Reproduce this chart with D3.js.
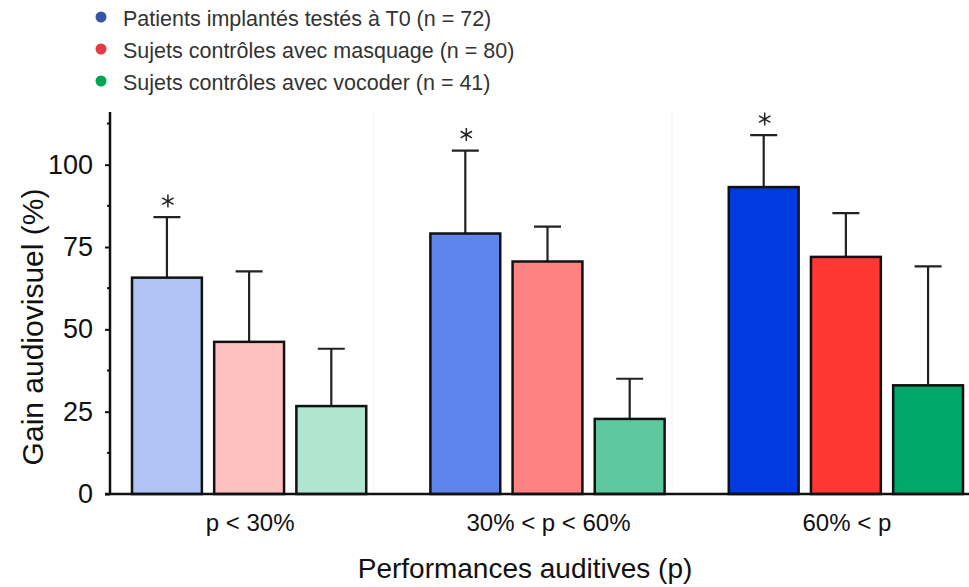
<!DOCTYPE html>
<html>
<head>
<meta charset="utf-8">
<script src="https://cdn.jsdelivr.net/npm/d3@7"></script>
<style>
  body { margin: 0; background: #fff; }
  svg { display: block; font-family: "Liberation Sans", Arial, sans-serif; }
</style>
</head>
<body>
<div id="chart"></div>
<script>
var categories = ["p < 30%", "30% < p < 60%", "60% < p"];
var series = ["Patients implantés testés à T0 (n = 72)",
              "Sujets contrôles avec masquage (n = 80)",
              "Sujets contrôles avec vocoder (n = 41)"];
// mean gain per category, one array per series
var means = [
  [65.7, 79.1, 93.2],
  [46.2, 70.6, 72.0],
  [26.7, 22.8, 33.0]
];
// top of the error bar (mean + sd)
var upper = [
  [84.1, 104.3, 109.0],
  [67.6, 81.2, 85.3],
  [44.1, 35.0, 69.1]
];
var significant = [true, false, false]; // star above the first series
var yTicks = [0, 25, 50, 75, 100];

var fills = [
  ["#b0c3f4", "#5f84ec", "#003ae0"],
  ["#ffc0c0", "#ff8282", "#ff3836"],
  ["#b0e5d1", "#5ec9a0", "#00a76a"]
];
var legendColors = ["#3556a6", "#e13b40", "#00a653"];

var W = 969, H = 587;
var svg = d3.select("#chart").append("svg")
    .attr("width", W).attr("height", H);

var x0 = d3.scaleBand().domain(categories).range([132, 963])
    .paddingInner(0.215).paddingOuter(0);
var x1 = d3.scaleBand().domain(d3.range(series.length))
    .range([0, x0.bandwidth()]).paddingInner(0.15);
var y = d3.scaleLinear().domain([0, 116]).range([494, 112]);

// faint separators
svg.selectAll(".sep").data(categories.slice(1)).enter().append("line")
    .attr("x1", function(d) { return x0(d) - x0.step() * 0.19; })
    .attr("x2", function(d) { return x0(d) - x0.step() * 0.19; })
    .attr("y1", y(116)).attr("y2", y(0))
    .attr("stroke", "#f3f3f3").attr("stroke-width", 1);

// bars
var rows = [];
series.forEach(function(s, i) {
  categories.forEach(function(c, j) {
    rows.push({ s: i, c: c, j: j, v: means[i][j], hi: upper[i][j] });
  });
});

var bw = x1.bandwidth();

// error bars
svg.selectAll(".err").data(rows).enter().append("path")
    .attr("d", function(d) {
      var cx = x0(d.c) + x1(d.s) + bw / 2;
      return "M" + cx + "," + y(d.v) + "V" + y(d.hi) +
             "M" + (cx - 13.5) + "," + y(d.hi) + "H" + (cx + 13.5);
    })
    .attr("fill", "none").attr("stroke", "#222").attr("stroke-width", 2.2);

svg.selectAll(".bar").data(rows).enter().append("rect")
    .attr("x", function(d) { return x0(d.c) + x1(d.s); })
    .attr("y", function(d) { return y(d.v); })
    .attr("width", bw)
    .attr("height", function(d) { return y(0) - y(d.v); })
    .attr("fill", function(d) { return fills[d.s][d.j]; })
    .attr("stroke", "#111").attr("stroke-width", 2.5);

// stars
var star = d3.symbol().type(d3.symbolAsterisk).size(120);
svg.selectAll(".star").data(rows.filter(function(d) { return significant[d.s]; }))
  .enter().append("path")
    .attr("d", star)
    .attr("transform", function(d) {
      return "translate(" + (x0(d.c) + x1(d.s) + bw / 2 + 1) + "," + (y(d.hi) - 16) + ")";
    })
    .attr("fill", "none").attr("stroke", "#222").attr("stroke-width", 1.5);

// y axis
var yAxis = svg.append("g").attr("transform", "translate(110,0)")
    .call(d3.axisLeft(y).tickValues(yTicks).tickSize(5).tickPadding(12).tickSizeOuter(0));
yAxis.select(".domain").attr("stroke", "#111").attr("stroke-width", 2.5)
    .attr("d", "M0," + y(116) + "V" + y(0));
yAxis.selectAll(".tick line").attr("stroke", "#111").attr("stroke-width", 2);
yAxis.selectAll(".tick text").attr("font-size", 27).attr("fill", "#111")
    .attr("font-family", "'Liberation Sans', Arial, sans-serif");

// minor ticks
svg.selectAll(".minor").data(d3.range(12.5, 116, 25)).enter().append("line")
    .attr("x1", 107).attr("x2", 110)
    .attr("y1", function(d) { return y(d); }).attr("y2", function(d) { return y(d); })
    .attr("stroke", "#111").attr("stroke-width", 2);

// x axis
svg.append("line")
    .attr("x1", 105).attr("x2", W).attr("y1", y(0)).attr("y2", y(0))
    .attr("stroke", "#111").attr("stroke-width", 2.5);

svg.selectAll(".cat").data(categories).enter().append("text")
    .attr("x", function(d) { return x0(d) + x0.bandwidth() / 2 + 1; })
    .attr("y", 531)
    .attr("text-anchor", "middle")
    .attr("font-size", 24)
    .attr("fill", "#111")
    .text(function(d) { return d; });

svg.append("text")
    .attr("x", 525).attr("y", 578)
    .attr("text-anchor", "middle")
    .attr("font-size", 28)
    .attr("fill", "#111")
    .text("Performances auditives (p)");

svg.append("text")
    .attr("transform", "translate(43,327) rotate(-90)")
    .attr("text-anchor", "middle")
    .attr("font-size", 30)
    .attr("fill", "#111")
    .text("Gain audiovisuel (%)");

// legend
var leg = svg.selectAll(".leg").data(series).enter().append("g")
    .attr("transform", function(d, i) { return "translate(101," + (17 + i * 32) + ")"; });
leg.append("circle").attr("r", 5.5)
    .attr("fill", function(d, i) { return legendColors[i]; });
leg.append("text").attr("x", 22).attr("y", 8.5)
    .attr("font-size", 21.5).attr("fill", "#333")
    .text(function(d) { return d; });
</script>
</body>
</html>
